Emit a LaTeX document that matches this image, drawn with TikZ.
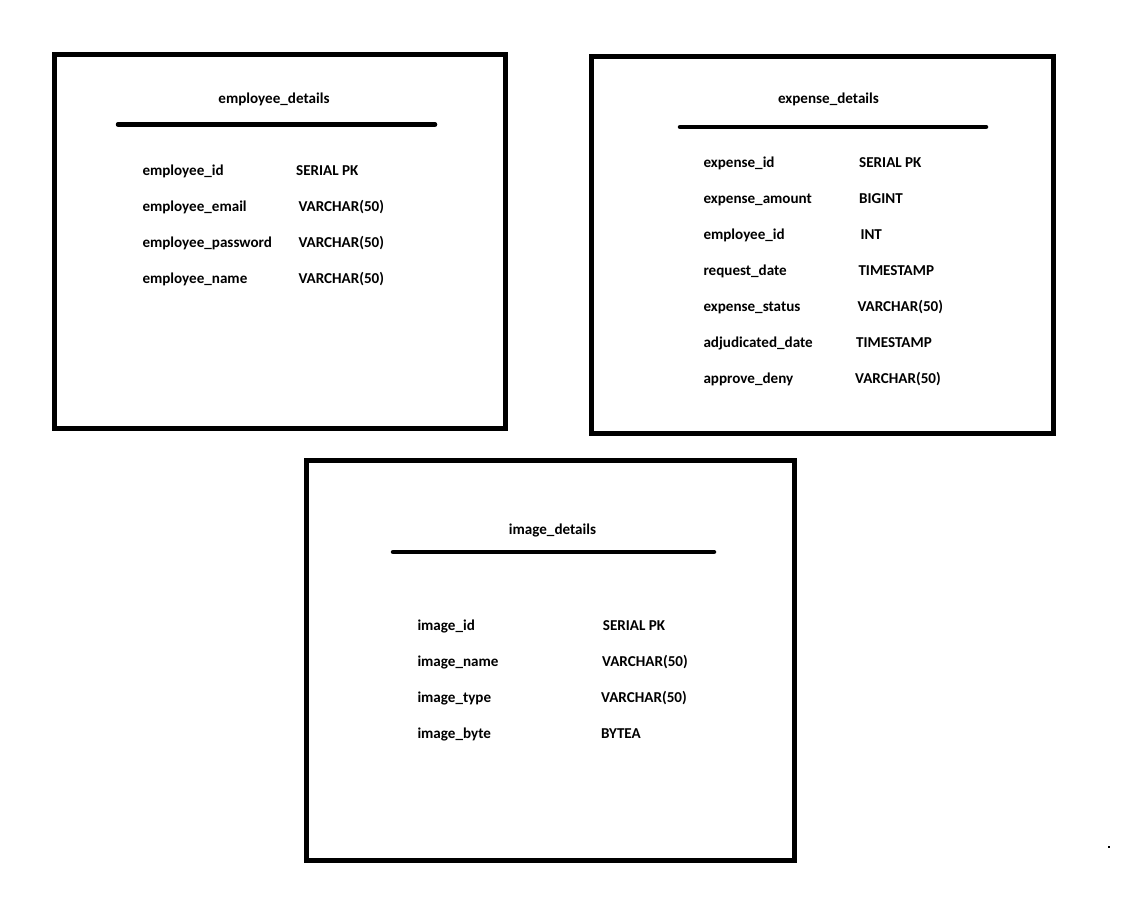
\documentclass[tikz,border=0pt]{standalone}
\usepackage{fontspec}
\setmainfont{Carlito}
\begin{document}
\begin{tikzpicture}[x=1pt,y=-1pt,
  tablebox/.style={line width=5pt},
  headrule/.style={line width=4.5pt,line cap=round},
  ttl/.style={anchor=base,inner sep=0pt,font=\fontsize{15.1}{16}\selectfont\bfseries},
  fld/.style={anchor=base west,inner sep=0pt,font=\fontsize{15.1}{16}\selectfont\bfseries}]
\useasboundingbox (0,0) rectangle (1127,913);
% employee_details
\draw[tablebox] (54.5,54.5) rectangle (505,428.5);
\coordinate (e1) at (118,124.5); \coordinate (e2) at (435,124.5);
\draw[headrule] (e1) -- (e2);
\node[ttl] (et) at (274,103) {employee\_details};
\node[fld] (ea1) at (142.3,175) {employee\_id};
\node[fld] (ea2) at (142.3,211) {employee\_email};
\node[fld] (ea3) at (142.3,247) {employee\_password};
\node[fld] (ea4) at (142.3,283) {employee\_name};
\node[fld] (eb1) at (296,175) {SERIAL PK};
\node[fld] (eb2) at (298.3,211) {VARCHAR(50)};
\node[fld] (eb3) at (298.3,247) {VARCHAR(50)};
\node[fld] (eb4) at (298.3,283) {VARCHAR(50)};
% expense_details
\draw[tablebox] (591,56.5) rectangle (1053.5,433);
\coordinate (x1) at (680,127); \coordinate (x2) at (986,127);
\draw[headrule] (x1) -- (x2);
\node[ttl] (xt) at (828.5,103.3) {expense\_details};
\node[fld] (xa1) at (703.3,167.3) {expense\_id};
\node[fld] (xa2) at (703.3,203.3) {expense\_amount};
\node[fld] (xa3) at (703.3,239.3) {employee\_id};
\node[fld] (xa4) at (703.3,275.3) {request\_date};
\node[fld] (xa5) at (703.3,311.3) {expense\_status};
\node[fld] (xa6) at (703.3,347.3) {adjudicated\_date};
\node[fld] (xa7) at (703.3,383.3) {approve\_deny};
\node[fld] (xb1) at (859,167.3) {SERIAL PK};
\node[fld] (xb2) at (859,203.3) {BIGINT};
\node[fld] (xb3) at (860.3,239.3) {INT};
\node[fld] (xb4) at (858.3,275.3) {TIMESTAMP};
\node[fld] (xb5) at (857.3,311.3) {VARCHAR(50)};
\node[fld] (xb6) at (856,347.3) {TIMESTAMP};
\node[fld] (xb7) at (855,383.3) {VARCHAR(50)};
% image_details
\draw[tablebox] (306.5,460) rectangle (794.5,860);
\coordinate (i1) at (393,552); \coordinate (i2) at (714,552);
\draw[headrule] (i1) -- (i2);
\node[ttl] (it) at (552.5,534.3) {image\_details};
\node[fld] (ia1) at (417.3,630.3) {image\_id};
\node[fld] (ia2) at (417.3,666.3) {image\_name};
\node[fld] (ia3) at (417.3,702.3) {image\_type};
\node[fld] (ia4) at (417.3,738.3) {image\_byte};
\node[fld] (ib1) at (602.7,630.3) {SERIAL PK};
\node[fld] (ib2) at (602,666.3) {VARCHAR(50)};
\node[fld] (ib3) at (601,702.3) {VARCHAR(50)};
\node[fld] (ib4) at (601,738.3) {BYTEA};
% stray dot
\fill (1108,846) rectangle (1110,848);
\end{tikzpicture}
\end{document}
